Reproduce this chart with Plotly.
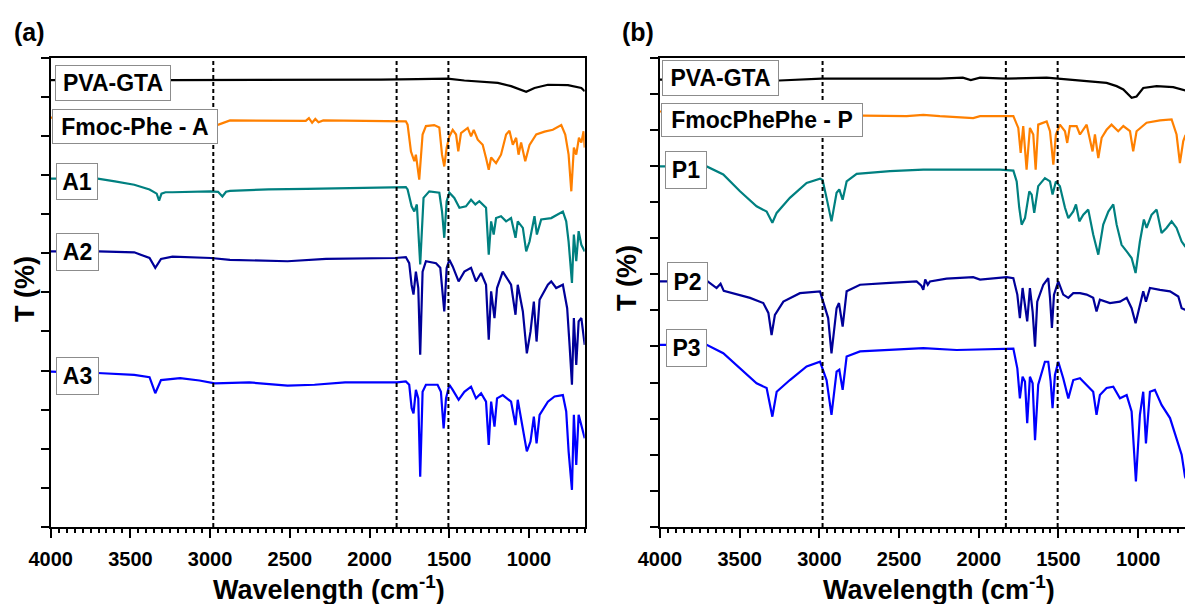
import numpy as np
import plotly.graph_objects as go

# ---------------- data (wavenumber in cm^-1, transmittance in offset %) ----------------
A_PVA_W = [4000, 3600, 3243, 2800, 2500, 2200, 1929, 1700, 1510, 1405, 1300, 1195, 1112, 1049, 1017, 965, 881, 755, 671, 650]
A_PVA_T = [95.2, 95.3, 95.2, 95.2, 95.2, 95.3, 95.3, 95.4, 95.5, 95.1, 94.9, 94.6, 93.9, 93.2, 92.7, 93.5, 94.2, 94.1, 93.5, 92.8]

A_FMOC_W = [4000, 3500, 3000, 2947, 2875, 2600, 2400, 2380, 2360, 2340, 2320, 2290, 1929, 1772, 1761, 1740, 1719, 1709, 1688, 1667,
            1646, 1594, 1562, 1545, 1531, 1516, 1499, 1478, 1457, 1443, 1426, 1384, 1363, 1346, 1321, 1290, 1269, 1252, 1237, 1206,
            1175, 1143, 1122, 1101, 1080, 1065, 1049, 1023, 996, 954, 902, 850, 797, 772, 751, 734, 718, 703, 686, 671, 657, 650]
A_FMOC_T = [87.2, 86.5, 85.5, 85.7, 86.6, 86.6, 86.5, 87.1, 86.1, 86.9, 86.2, 86.6, 86.4, 86.4, 85.7, 80.0, 77.9, 79.3, 74.0, 83.6,
            85.4, 85.6, 85.1, 79.3, 76.8, 80.8, 83.2, 84.6, 83.6, 80.0, 83.9, 85.0, 83.2, 84.6, 82.5, 81.4, 78.6, 76.1, 78.7, 77.5,
            79.3, 83.6, 84.4, 81.4, 82.9, 79.3, 81.9, 77.9, 81.4, 83.6, 84.2, 84.6, 85.6, 83.6, 79.3, 71.5, 80.8, 79.3, 82.9, 81.9, 84.3, 80.8]

A1_W = [4000, 3705, 3597, 3476, 3380, 3335, 3320, 3305, 3280, 3236, 3000, 2950, 2923, 2900, 2875, 2634, 2393, 1840, 1772, 1761,
        1736, 1719, 1703, 1682, 1661, 1625, 1562, 1545, 1531, 1516, 1499, 1468, 1436, 1395, 1363, 1336, 1311, 1269, 1252, 1237,
        1221, 1206, 1175, 1143, 1112, 1084, 1070, 1038, 1017, 996, 965, 950, 923, 860, 787, 766, 751, 730, 718, 703, 688, 671, 650]
A1_T = [74.2, 74.2, 73.6, 72.9, 71.9, 71.0, 69.5, 71.0, 71.3, 71.3, 71.5, 71.4, 70.4, 71.4, 71.6, 71.9, 72.0, 72.3, 72.4, 71.9,
        68.3, 67.2, 68.7, 55.9, 70.1, 71.5, 71.2, 67.2, 61.6, 69.4, 71.2, 70.1, 68.0, 68.3, 69.7, 68.7, 69.4, 68.0, 58.0, 65.1,
        62.3, 65.8, 66.2, 65.1, 65.8, 61.6, 65.1, 63.7, 58.7, 60.8, 66.2, 62.3, 65.5, 65.8, 67.2, 65.1, 60.8, 52.0, 62.3, 56.6, 63.0, 60.1, 58.7]

A2_W = [4000, 3700, 3476, 3380, 3344, 3308, 3236, 2995, 2875, 2514, 2273, 1840, 1772, 1751, 1736, 1724, 1709, 1694, 1682, 1667,
        1646, 1583, 1556, 1545, 1531, 1516, 1499, 1478, 1441, 1405, 1363, 1332, 1300, 1269, 1252, 1237, 1216, 1200, 1164, 1112,
        1084, 1070, 1038, 1013, 990, 969, 952, 933, 881, 860, 829, 787, 760, 745, 730, 718, 703, 688, 671, 650]
A2_T = [58.7, 58.7, 58.5, 57.3, 55.2, 57.1, 57.6, 57.3, 56.9, 56.6, 57.1, 57.3, 57.5, 56.2, 51.6, 49.5, 54.4, 50.9, 36.7, 54.4,
        56.6, 56.2, 55.2, 50.9, 45.9, 55.2, 56.9, 55.5, 52.3, 54.4, 55.2, 52.3, 54.1, 51.6, 39.9, 50.2, 44.5, 50.9, 54.4, 51.6,
        45.2, 51.6, 45.9, 37.0, 41.6, 48.0, 39.5, 48.4, 51.6, 52.3, 50.9, 51.6, 46.6, 38.8, 30.3, 44.5, 34.5, 43.8, 44.5, 38.8]

A3_W = [4000, 3707, 3476, 3380, 3344, 3308, 3188, 3067, 2971, 2754, 2514, 2345, 2153, 1828, 1772, 1751, 1736, 1724, 1709, 1694,
        1682, 1667, 1646, 1573, 1552, 1535, 1520, 1499, 1478, 1441, 1405, 1363, 1332, 1300, 1269, 1252, 1237, 1216, 1200, 1164,
        1112, 1084, 1070, 1038, 1013, 990, 969, 952, 933, 881, 839, 787, 766, 751, 730, 718, 703, 688, 671, 650]
A3_T = [33.1, 32.8, 32.4, 31.9, 28.5, 31.3, 31.7, 31.2, 30.6, 30.8, 30.1, 30.3, 30.8, 30.8, 31.0, 30.3, 25.3, 24.2, 29.2, 27.4,
        10.7, 28.8, 30.3, 30.3, 28.8, 21.0, 27.4, 30.3, 29.2, 27.1, 28.8, 29.9, 27.4, 28.5, 26.7, 17.5, 26.7, 21.4, 27.4, 28.1,
        26.7, 21.7, 27.1, 21.0, 16.1, 18.2, 23.5, 17.8, 23.9, 26.7, 27.8, 28.1, 24.6, 16.1, 7.9, 23.9, 13.2, 23.9, 21.7, 18.9]

P_PVA_W = [4000, 3600, 3251, 2986, 2662, 2244, 2100, 2050, 1992, 1829, 1574, 1511, 1365, 1198, 1135, 1093, 1041, 1010, 968, 884, 780, 706, 650]
P_PVA_T = [95.3, 95.2, 95.1, 95.5, 95.5, 95.5, 95.7, 95.2, 95.7, 95.5, 95.7, 95.5, 95.1, 94.6, 93.9, 93.2, 91.4, 91.7, 93.5, 93.9, 93.7, 93.0, 92.5]

P_FMOC_W = [4000, 3350, 3300, 3260, 2724, 2453, 2348, 2244, 2035, 1992, 1783, 1752, 1737, 1721, 1700, 1679, 1658, 1643, 1627, 1574,
            1553, 1532, 1516, 1491, 1459, 1445, 1428, 1386, 1365, 1323, 1286, 1271, 1250, 1229, 1198, 1167, 1125, 1093, 1051, 1031,
            1010, 947, 863, 790, 759, 738, 717, 706, 650]
P_FMOC_T = [88.5, 87.8, 83.2, 87.8, 87.6, 87.5, 87.8, 87.5, 87.1, 87.5, 87.5, 85.0, 79.7, 85.4, 76.1, 85.0, 83.6, 76.1, 85.7, 86.4,
            84.3, 77.2, 83.6, 85.7, 84.3, 81.8, 85.4, 85.4, 83.6, 85.7, 80.0, 83.6, 78.6, 82.9, 84.6, 85.7, 84.3, 85.4, 84.3, 80.0,
            84.3, 86.1, 86.6, 86.8, 83.6, 77.5, 82.2, 83.2, 81.4]

P1_W = [4000, 3707, 3603, 3498, 3394, 3331, 3295, 3268, 3185, 3080, 2996, 2980, 2955, 2924, 2892, 2875, 2854, 2829, 2766, 2557,
        2348, 1867, 1783, 1762, 1746, 1731, 1710, 1683, 1668, 1652, 1627, 1585, 1553, 1537, 1516, 1491, 1459, 1438, 1407, 1390,
        1369, 1344, 1313, 1282, 1250, 1219, 1187, 1156, 1135, 1104, 1072, 1041, 1016, 989, 964, 947, 916, 884, 853, 822,
        790, 759, 727, 706, 650]
P1_T = [76.8, 76.8, 75.1, 71.5, 68.3, 67.2, 64.8, 66.9, 70.1, 73.3, 74.2, 73.9, 70.1, 65.1, 71.2, 71.9, 69.7, 73.6, 75.2, 75.8,
        76.1, 76.1, 75.9, 73.6, 68.0, 64.4, 65.8, 71.5, 70.8, 66.9, 72.6, 74.3, 73.6, 70.8, 73.6, 72.6, 68.0, 65.8, 67.2, 68.7,
        65.1, 66.5, 67.6, 62.3, 58.0, 64.4, 67.2, 68.7, 64.4, 60.1, 58.7, 57.3, 54.1, 60.8, 65.5, 63.7, 66.5, 67.6, 62.6, 63.7,
        65.1, 63.7, 60.8, 59.8, 58.0]

P2_W = [4000, 3701, 3645, 3620, 3600, 3540, 3435, 3352, 3320, 3300, 3279, 3226, 3122, 2996, 2965, 2945, 2924, 2892, 2877, 2854,
        2829, 2745, 2557, 2390, 2360, 2348, 2336, 2320, 2306, 2202, 2035, 1992, 1825, 1783, 1758, 1742, 1725, 1710, 1696, 1679,
        1662, 1647, 1633, 1595, 1564, 1553, 1541, 1528, 1501, 1470, 1438, 1407, 1365, 1323, 1282, 1261, 1240, 1177, 1114, 1072,
        1041, 1016, 993, 968, 951, 926, 863, 800, 748, 727, 706, 650]
P2_T = [52.3, 52.3, 50.9, 51.8, 50.3, 49.8, 48.8, 47.7, 45.6, 40.9, 45.2, 48.0, 49.8, 50.2, 46.6, 44.5, 37.0, 46.6, 47.7, 42.7,
        50.2, 51.6, 52.0, 52.3, 51.4, 50.5, 52.7, 51.6, 52.3, 52.9, 53.2, 52.7, 53.2, 53.0, 49.5, 44.5, 50.9, 46.6, 43.8, 50.9,
        45.9, 38.4, 48.0, 51.6, 53.0, 48.8, 42.4, 49.5, 52.3, 49.5, 48.8, 49.8, 49.8, 49.5, 48.8, 45.9, 48.4, 47.7, 48.0, 48.8,
        46.6, 43.4, 46.6, 50.2, 48.0, 50.9, 50.5, 50.2, 49.1, 46.6, 46.3, 45.8]

P3_W = [4000, 3707, 3603, 3498, 3394, 3331, 3295, 3268, 3185, 3080, 2996, 2955, 2924, 2892, 2875, 2854, 2829, 2745, 2557, 2348,
        2139, 1867, 1783, 1758, 1742, 1725, 1710, 1696, 1679, 1662, 1647, 1627, 1585, 1564, 1549, 1537, 1522, 1501, 1470, 1438,
        1407, 1365, 1323, 1282, 1261, 1240, 1198, 1156, 1114, 1072, 1041, 1014, 989, 968, 951, 926, 895, 853, 800, 759,
        727, 706, 650]
P3_T = [38.8, 38.8, 37.0, 33.8, 30.6, 29.6, 23.5, 28.8, 31.3, 34.2, 35.2, 31.3, 23.9, 33.1, 33.5, 29.2, 36.3, 37.4, 37.7, 38.1,
        37.7, 38.0, 38.0, 33.8, 27.4, 32.0, 31.0, 22.1, 32.0, 30.6, 18.5, 30.3, 35.2, 35.2, 31.0, 25.3, 32.4, 35.2, 31.7, 27.4,
        31.3, 31.7, 30.3, 28.8, 23.9, 28.1, 29.6, 29.9, 27.4, 28.1, 24.6, 9.7, 23.9, 28.8, 17.8, 28.8, 29.2, 26.0, 23.2, 18.9,
        15.4, 10.7, 6.8]

DASHED_W = [2980, 1830, 1505]
X_TICKS = [4000, 3500, 3000, 2500, 2000, 1500, 1000]
X_TICK_LABELS = ["4000", "3500", "3000", "2500", "2000", "1500", "1000"]

LEFT_LABELS = ["PVA-GTA", "Fmoc-Phe - A", "A1", "A2", "A3"]
RIGHT_LABELS = ["PVA-GTA", "FmocPhePhe - P", "P1", "P2", "P3"]

# ---------------- styling ----------------
FONT = "Liberation Sans, Arial, sans-serif"
C_BLACK = "#000000"
C_ORANGE = "#FF8000"
C_TEAL = "#008080"
C_NAVY = "#000099"
C_BLUE = "#0000FF"

W, H = 1185, 604
# plot-area pixel geometry -> paper fractions
L_X0, L_X1 = 50.7 / W, 584.7 / W
R_X0, R_X1 = 660.0 / W, 1.0
Y0, Y1 = 1 - 527.0 / H, 1 - 57.5 / H

fig = go.Figure()

left_series = [(A_PVA_W, A_PVA_T, C_BLACK), (A_FMOC_W, A_FMOC_T, C_ORANGE), (A1_W, A1_T, C_TEAL),
               (A2_W, A2_T, C_NAVY), (A3_W, A3_T, C_BLUE)]
right_series = [(P_PVA_W, P_PVA_T, C_BLACK), (P_FMOC_W, P_FMOC_T, C_ORANGE), (P1_W, P1_T, C_TEAL),
                (P2_W, P2_T, C_NAVY), (P3_W, P3_T, C_BLUE)]

for wv, tv, col in left_series:
    fig.add_trace(go.Scatter(x=wv, y=tv, mode="lines", line=dict(color=col, width=2.2),
                             xaxis="x", yaxis="y", showlegend=False, hoverinfo="skip"))
for wv, tv, col in right_series:
    fig.add_trace(go.Scatter(x=wv, y=tv, mode="lines", line=dict(color=col, width=2.2),
                             xaxis="x2", yaxis="y2", showlegend=False, hoverinfo="skip"))

tickfont = dict(family=FONT, size=20, color="black", weight="bold")


def xaxis_main(domain, rng, anchor):
    return dict(domain=domain, range=rng, autorange=False, anchor=anchor, automargin=False,
                showline=True, linewidth=2, linecolor="black", mirror=True,
                ticks="outside", ticklen=9, tickwidth=2, tickcolor="black",
                tickvals=X_TICKS, ticktext=["<b>%s</b>" % t for t in X_TICK_LABELS], tickfont=tickfont,
                ticklabelstandoff=4,
                minor=dict(dtick=50, tick0=0, ticks="outside", ticklen=4, tickwidth=1.5, tickcolor="black"),
                showgrid=False, zeroline=False)


def xaxis_top(overlay, rng, anchor):
    return dict(overlaying=overlay, range=rng, autorange=False, anchor=anchor, side="top", automargin=False,
                showline=False, ticks="inside", ticklen=8, tickwidth=2, tickcolor="black",
                tickvals=X_TICKS, showticklabels=False,
                minor=dict(dtick=50, tick0=0, ticks="inside", ticklen=4, tickwidth=1.5, tickcolor="black"),
                showgrid=False, zeroline=False)


def yaxis(domain, anchor, nint, mirror):
    return dict(domain=domain, range=[0, 100], autorange=False, anchor=anchor, automargin=False,
                showline=True, linewidth=2, linecolor="black", mirror=mirror,
                ticks="outside", ticklen=8, tickwidth=2, tickcolor="black",
                tickvals=list(np.linspace(0, 100, nint + 1)), showticklabels=False,
                showgrid=False, zeroline=False)


shapes = []
for xr in ["x", "x2"]:
    yr = "y domain" if xr == "x" else "y2 domain"
    for wv in DASHED_W:
        shapes.append(dict(type="line", xref=xr, yref=yr, x0=wv, x1=wv, y0=0, y1=1,
                           line=dict(color="black", width=2, dash="4px,3px"), layer="above"))

label_font = dict(family=FONT, size=23, color="black", weight="bold")
annotations = []


def box(text, xref, yref, x, y, w, h):
    pad = 2
    annotations.append(dict(text="<b>%s</b>" % text, xref=xref, yref=yref, x=x, y=y, xanchor="left", yanchor="top",
                            showarrow=False, font=label_font, bgcolor="white", bordercolor="#8c8c8c",
                            borderwidth=1, borderpad=pad, width=w - 2 * pad - 2, height=h - 2 * pad - 2,
                            align="center", valign="middle"))


# left panel label boxes (x, y in axis-domain fractions; w, h in px)
left_pos = [(0.0081, 0.9840, 116, 36), (0.0024, 0.8903, 166, 35), (0.0099, 0.7753, 42, 37),
            (0.0099, 0.6262, 43, 38), (0.0099, 0.3621, 43, 38)]
for txt, (x, y, w, h) in zip(LEFT_LABELS, left_pos):
    box(txt, "x domain", "y domain", x, y, w, h)

right_pos = [(0.0038, 0.9947, 117, 36), (0.0019, 0.9031, 202, 34), (0.0095, 0.8008, 42, 38),
             (0.0133, 0.5644, 41, 39), (0.0114, 0.4217, 41, 38)]
for txt, (x, y, w, h) in zip(RIGHT_LABELS, right_pos):
    box(txt, "x2 domain", "y2 domain", x, y, w, h)

title_font = dict(family=FONT, size=27, color="black", weight="bold")
panel_font = dict(family=FONT, size=25, color="black", weight="bold")

annotations += [
    dict(text="<b>T (%)</b>", xref="paper", yref="paper", x=25 / W, y=1 - 289 / H, textangle=-90,
         showarrow=False, font=title_font, xanchor="center", yanchor="middle"),
    dict(text="<b>T (%)</b>", xref="paper", yref="paper", x=627 / W, y=1 - 278 / H, textangle=-90,
         showarrow=False, font=title_font, xanchor="center", yanchor="middle"),
    dict(text="<b>Wavelength (cm<sup>-1</sup>)</b>", xref="paper", yref="paper", x=329 / W, y=1 - 588 / H,
         showarrow=False, font=title_font, xanchor="center", yanchor="middle"),
    dict(text="<b>Wavelength (cm<sup>-1</sup>)</b>", xref="paper", yref="paper", x=939 / W, y=1 - 588 / H,
         showarrow=False, font=title_font, xanchor="center", yanchor="middle"),
    dict(text="<b>(a)</b>", xref="paper", yref="paper", x=29 / W, y=1 - 32 / H,
         showarrow=False, font=panel_font, xanchor="center", yanchor="middle"),
    dict(text="<b>(b)</b>", xref="paper", yref="paper", x=638 / W, y=1 - 32 / H,
         showarrow=False, font=panel_font, xanchor="center", yanchor="middle"),
]

fig.update_layout(
    width=W, height=H,
    margin=dict(l=0, r=0, t=0, b=0, pad=0, autoexpand=False),
    paper_bgcolor="white", plot_bgcolor="white",
    showlegend=False,
    xaxis=xaxis_main([L_X0, L_X1], [4000, 650], "y"),
    xaxis3=xaxis_top("x", [4000, 650], "y"),
    yaxis=yaxis([Y0, Y1], "x", 12, True),
    xaxis2=xaxis_main([R_X0, R_X1], [4000, 706], "y2"),
    xaxis4=xaxis_top("x2", [4000, 706], "y2"),
    yaxis2=yaxis([Y0, Y1], "x2", 13, False),
    shapes=shapes,
    annotations=annotations,
)

fig.write_html("out.html", config={"displayModeBar": False},
               post_script="document.body.style.margin='0px';document.body.style.overflow='hidden';")
